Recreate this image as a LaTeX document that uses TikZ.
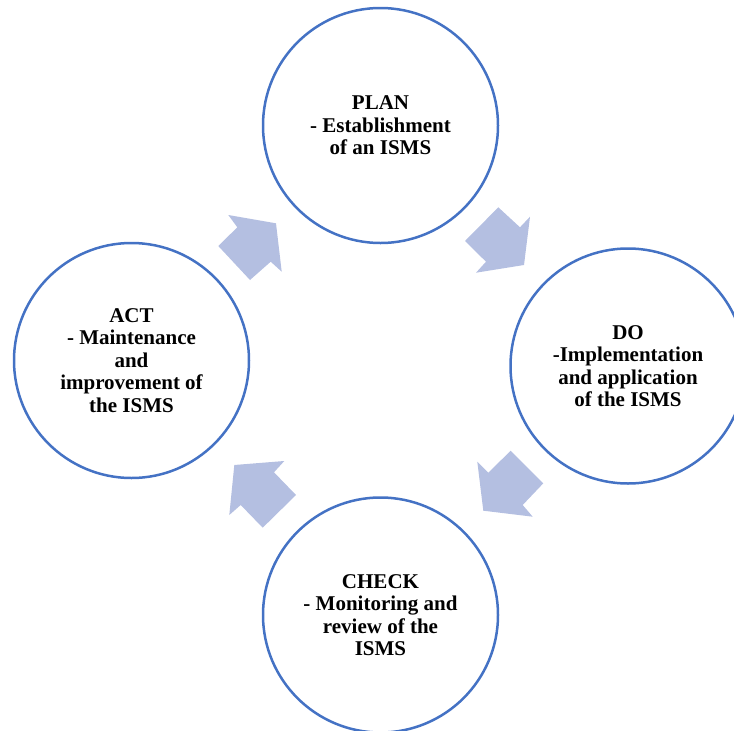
\documentclass[tikz,border=0pt]{standalone}
\usepackage{fontspec}
\setmainfont{Liberation Serif}
\definecolor{ringblue}{RGB}{68,114,196}
\definecolor{arrowfill}{RGB}{180,191,225}
\begin{document}
\begin{tikzpicture}[x=1pt,y=-1pt,
  phase/.style={circle,draw=ringblue,line width=2.5pt,minimum size=235pt,inner sep=0pt,
    align=center,font=\fontsize{21}{22.5}\selectfont\bfseries},
  blockarrow/.style={fill=arrowfill,draw=none}]
\useasboundingbox (0,0) rectangle (734,731);
\node[phase] (plan)  at (380.5,125.5) {PLAN\\- Establishment\\of an ISMS};
\node[phase] (do)    at (628,366)     {DO\\-Implementation\\and application\\of the ISMS};
\node[phase] (check) at (380.5,615)   {CHECK\\- Monitoring and\\review of the\\ISMS};
\node[phase] (act)   at (131.5,360.5) {ACT\\- Maintenance\\and\\improvement of\\the ISMS};
% ACT -> PLAN
\fill[blockarrow] (228.3,215) -- (276,223.3) -- (281.7,271.7) -- (270.7,261.7) -- (250,280) -- (218.3,246) -- (237.3,227.3) -- cycle;
% PLAN -> DO
\fill[blockarrow] (498.3,207.3) -- (520,227.3) -- (530,216.7) -- (524,265) -- (476,272.7) -- (486,261.7) -- (465,241) -- cycle;
% DO -> CHECK
\fill[blockarrow] (510.7,450.7) -- (543.3,483.3) -- (522.7,505) -- (532.7,516.7) -- (483.3,510.7) -- (477.3,461.7) -- (488.3,472.7) -- cycle;
% CHECK -> ACT
\fill[blockarrow] (234.3,465) -- (284.3,461) -- (274,472.3) -- (296,495) -- (262.7,527.7) -- (240.7,505) -- (229.3,515) -- cycle;
\end{tikzpicture}
\end{document}
